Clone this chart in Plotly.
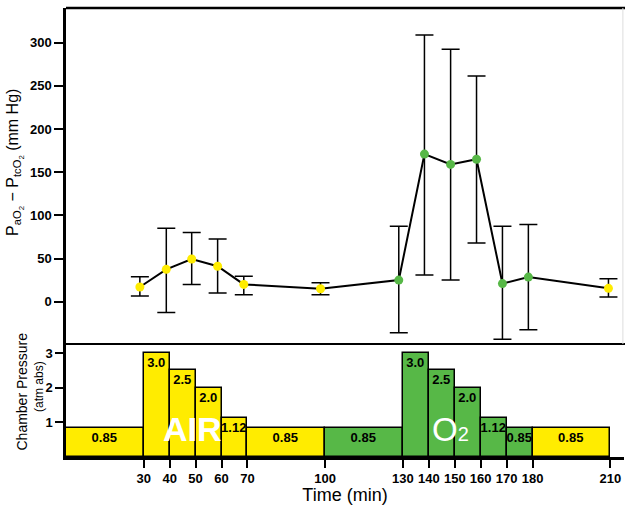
import plotly.graph_objects as go

# ---- data ----
time_pts = [28.5, 38.7, 48.5, 58.5, 68.6, 98.2, 128.4, 138.3, 148.4, 158.4, 168.4, 178.4, 209.3]
mean_diff = [17, 37.5, 49.5, 41, 20, 15, 25, 171, 159, 165, 21, 28.5, 15.5]
upper_end = [29, 85, 80, 72.5, 29.5, 22, 87.5, 309, 292.5, 261.5, 87.5, 89.5, 26.5]
lower_end = [6.5, -12.5, 20, 10, 8, 8, -36, 31, 25, 68, -43.5, -32.5, 5.5]
point_gas = ["air"] * 6 + ["o2"] * 6 + ["air"]

bar_start = [0, 30, 40, 50, 60, 70, 100, 130, 140, 150, 160, 170, 180]
bar_end = [30, 40, 50, 60, 70, 100, 130, 140, 150, 160, 170, 180, 210]
pressure = [0.85, 3.0, 2.5, 2.0, 1.12, 0.85, 0.85, 3.0, 2.5, 2.0, 1.12, 0.85, 0.85]
bar_labels = ["0.85", "3.0", "2.5", "2.0", "1.12", "0.85", "0.85", "3.0", "2.5", "2.0", "1.12", "0.85", "0.85"]
bar_gas = ["air"] * 6 + ["o2"] * 6 + ["air"]

x_ticks = [30, 40, 50, 60, 70, 100, 130, 140, 150, 160, 170, 180, 210]
y_ticks_top = [0, 50, 100, 150, 200, 250, 300]
y_ticks_bottom = [1, 2, 3]

YELLOW = "#FFEC00"
GREEN = "#57B847"
gas_color = {"air": YELLOW, "o2": GREEN}
FONT = "Liberation Sans, Arial, sans-serif"

err_plus = [u - m for u, m in zip(upper_end, mean_diff)]
err_minus = [m - l for m, l in zip(mean_diff, lower_end)]

fig = go.Figure()

# chamber pressure bars
fig.add_trace(go.Bar(
    x=[(s + e) / 2 for s, e in zip(bar_start, bar_end)],
    y=pressure,
    width=[e - s for s, e in zip(bar_start, bar_end)],
    marker=dict(color=[gas_color[g] for g in bar_gas], line=dict(color="black", width=1.5)),
    text=bar_labels,
    textposition="inside",
    insidetextanchor="end",
    textangle=0,
    constraintext="none",
    cliponaxis=False,
    textfont=dict(family=FONT, size=13, color="black", weight="bold"),
    xaxis="x", yaxis="y2",
    showlegend=False,
))

# PaO2 - PtcO2 points
fig.add_trace(go.Scatter(
    x=time_pts, y=mean_diff,
    mode="lines+markers",
    line=dict(color="black", width=2),
    marker=dict(color=[gas_color[g] for g in point_gas], size=9, line=dict(width=0)),
    error_y=dict(type="data", symmetric=False, array=err_plus, arrayminus=err_minus,
                 color="black", thickness=1.5, width=9),
    xaxis="x", yaxis="y",
    showlegend=False,
))

split = 0.2517

fig.update_layout(
    width=625, height=505,
    margin=dict(l=66, r=1, t=8, b=48),
    paper_bgcolor="white", plot_bgcolor="white",
    font=dict(family=FONT, color="black"),
    bargap=0,
    uniformtext=dict(minsize=13, mode="show"),
    xaxis=dict(
        domain=[0, 1], anchor="y2", range=[0, 215.3],
        showgrid=False, zeroline=False,
        showline=True, linecolor="black", linewidth=2.5,
        tickmode="array", tickvals=x_ticks, ticktext=[str(t) for t in x_ticks],
        ticks="outside", ticklen=8, tickwidth=2, tickcolor="black",
        tickfont=dict(family=FONT, size=13, weight="bold"),
        title=dict(text="Time (min)", font=dict(family=FONT, size=18), standoff=3),
    ),
    yaxis=dict(
        domain=[split, 1], anchor="x", range=[-49, 340.2],
        showgrid=False, zeroline=False,
        showline=True, linecolor="black", linewidth=2.5,
        tickmode="array", tickvals=y_ticks_top,
        ticks="outside", ticklen=9, tickwidth=2, tickcolor="black",
        tickfont=dict(family=FONT, size=13, weight="bold"),
    ),
    yaxis2=dict(
        domain=[0, split], anchor="x", range=[0, 3.26],
        showgrid=False, zeroline=False,
        showline=True, linecolor="black", linewidth=2.5,
        tickmode="array", tickvals=y_ticks_bottom,
        ticks="outside", ticklen=8, tickwidth=2, tickcolor="black",
        tickfont=dict(family=FONT, size=13, weight="bold"),
    ),
    shapes=[
        dict(type="line", xref="paper", yref="paper", x0=0, x1=1.01, y0=1, y1=1,
             line=dict(color="black", width=2.5)),
        dict(type="line", xref="paper", yref="paper", x0=0, x1=1.01, y0=split, y1=split,
             line=dict(color="black", width=2)),
        dict(type="line", xref="paper", yref="paper", x0=0.998, x1=0.998, y0=split, y1=1,
             line=dict(color="#dddddd", width=1)),
    ],
    annotations=[
        dict(text="P<sub>aO<sub>2</sub></sub> − P<sub>tcO<sub>2</sub></sub> (mm Hg)",
             xref="paper", yref="paper", x=-51 / 558, y=0.655, textangle=-90,
             showarrow=False, xanchor="center", yanchor="middle",
             font=dict(family=FONT, size=16)),
        dict(text="Chamber Pressure", xref="paper", yref="paper",
             x=-44 / 558, y=split / 2 + 0.02, textangle=-90, showarrow=False,
             xanchor="center", yanchor="middle", font=dict(family=FONT, size=14)),
        dict(text="(atm abs)", xref="paper", yref="paper",
             x=-27 / 558, y=split / 2 + 0.03, textangle=-90, showarrow=False,
             xanchor="center", yanchor="middle", font=dict(family=FONT, size=12)),
        dict(text="AIR", xref="x", yref="y2", x=48.7, y=0.81, showarrow=False,
             xanchor="center", yanchor="middle",
             font=dict(family=FONT, size=34, color="white", weight="bold")),
        dict(text='O<span style="font-size:20px">2</span>', xref="x", yref="y2",
             x=148.3, y=0.78, showarrow=False, xanchor="center", yanchor="middle",
             font=dict(family=FONT, size=33, color="white")),
    ],
)

fig.write_html("out.html")
